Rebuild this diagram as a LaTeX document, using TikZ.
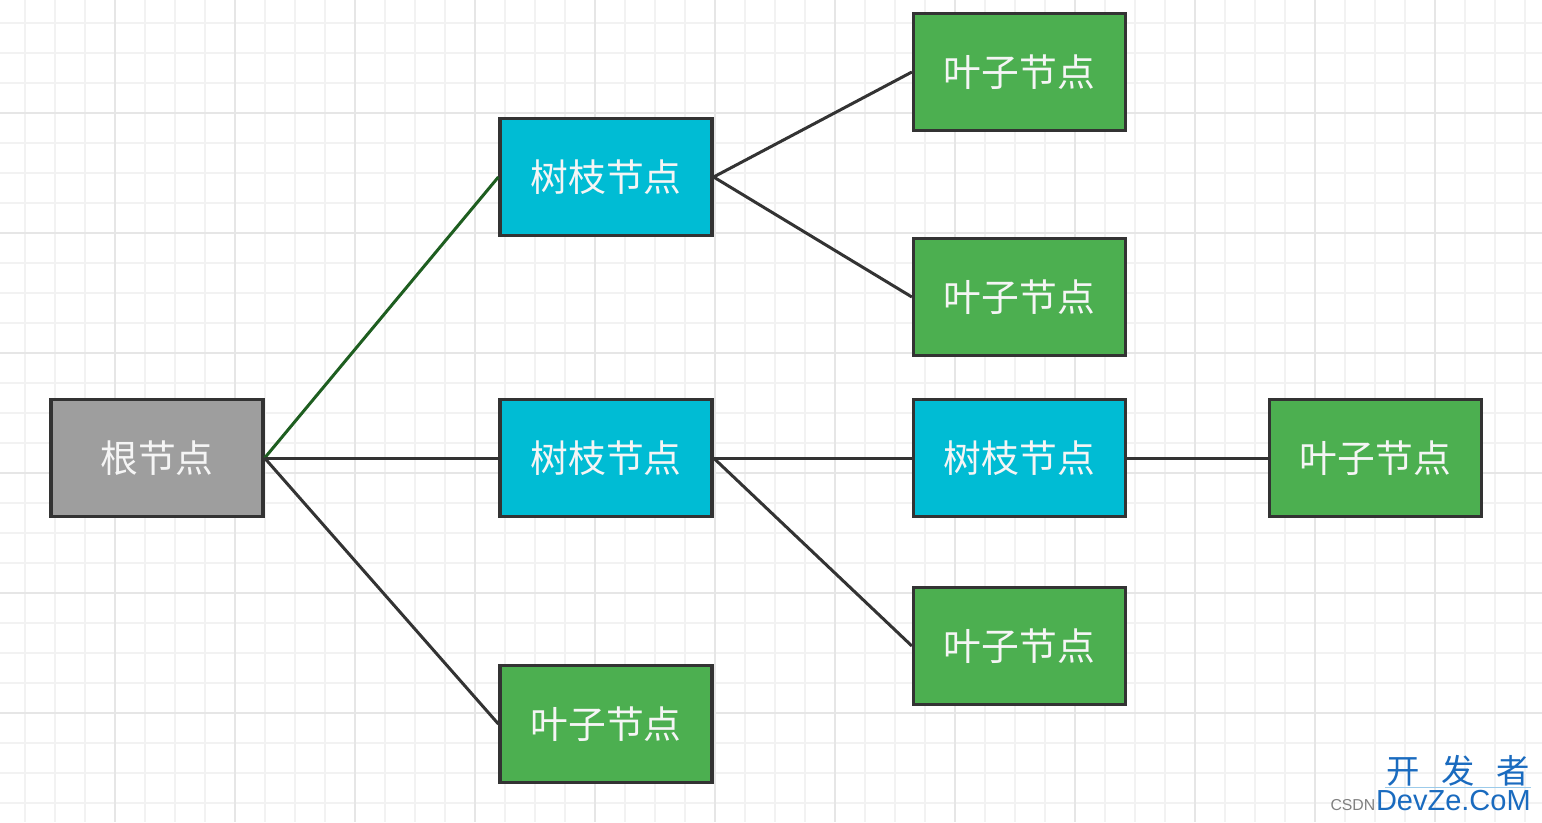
\documentclass[tikz,border=0pt]{standalone}
\usepackage{fontspec}
\setmainfont{Noto Sans CJK SC}
\newfontfamily\latinfont{Liberation Sans}
\usepackage{tikz}
\usepackage{xcolor}
\usetikzlibrary{positioning}

\definecolor{rootgray}{HTML}{9E9E9E}
\definecolor{branchcyan}{HTML}{00BCD4}
\definecolor{leafgreen}{HTML}{4CAF50}
\definecolor{edgedark}{HTML}{333333}
\definecolor{edgegreen}{HTML}{1E5E20}
\definecolor{gridminor}{HTML}{F2F2F2}
\definecolor{gridmajor}{HTML}{E6E6E6}
\definecolor{markblue}{HTML}{1A6BBF}
\definecolor{marklight}{HTML}{9CCBEA}

\tikzset{
    treebox/.style={draw=edgedark, line width=0.065cm, minimum width=4.24cm,
        minimum height=2.34cm, inner sep=0pt, text=white!96!black,
        font=\fontsize{21.5}{24}\selectfont},
    rootbox/.style={treebox, fill=rootgray},
    branchbox/.style={treebox, fill=branchcyan},
    leafbox/.style={treebox, fill=leafgreen},
    link/.style={edgedark, line width=0.06cm},
}

\begin{document}
\begin{tikzpicture}[x=0.02cm, y=-0.02cm]
    \useasboundingbox (0,0) rectangle (1542,822);
    \fill[white] (0,0) rectangle (1542,822);

    % Grid paper
    \foreach \x in {25,55,...,1542} \draw[gridminor, line width=0.03cm] (\x,0) -- (\x,822);
    \foreach \y in {23,53,...,822} \draw[gridminor, line width=0.03cm] (0,\y) -- (1542,\y);
    \foreach \x in {115,235,...,1542} \draw[gridmajor, line width=0.04cm] (\x,0) -- (\x,822);
    \foreach \y in {113,233,...,822} \draw[gridmajor, line width=0.04cm] (0,\y) -- (1542,\y);

    % Nodes
    \node[rootbox] (root) at (157,458) {根节点};
    \node[branchbox] (branchA) at (606,177) {树枝节点};
    \node[branchbox] (branchB) at (606,458) {树枝节点};
    \node[leafbox] (leafA) at (606,724) {叶子节点};
    \node[leafbox] (leafB) at (1019.5,72) {叶子节点};
    \node[leafbox] (leafC) at (1019.5,297) {叶子节点};
    \node[branchbox] (branchC) at (1019.5,458) {树枝节点};
    \node[leafbox] (leafD) at (1019.5,646) {叶子节点};
    \node[leafbox] (leafE) at (1375.5,458) {叶子节点};

    % Edges
    \draw[link, edgegreen] (root.east) -- (branchA.west);
    \draw[link] (root.east) -- (branchB.west);
    \draw[link] (root.east) -- (leafA.west);
    \draw[link] (branchA.east) -- (leafB.west);
    \draw[link] (branchA.east) -- (leafC.west);
    \draw[link] (branchB.east) -- (branchC.west);
    \draw[link] (branchB.east) -- (leafD.west);
    \draw[link] (branchC.east) -- (leafE.west);

    % Watermark
    \node[text=markblue, font=\fontsize{19}{20}\selectfont, inner sep=0pt] (markcn) at (1458,771) {开\hspace{0.65em}发\hspace{0.65em}者};
    \draw[marklight, line width=0.02cm] (1385,787) -- (1531,787);
    \node[text=markblue, font=\latinfont\fontsize{16.5}{18}\selectfont, inner sep=0pt, anchor=base east] (markdev) at (1531,810) {DevZe.CoM};
    \node[text=gray, font=\latinfont\fontsize{9}{10}\selectfont, inner sep=0pt, anchor=base east] (markcsdn) at (markdev.base west) {CSDN};
\end{tikzpicture}
\end{document}
